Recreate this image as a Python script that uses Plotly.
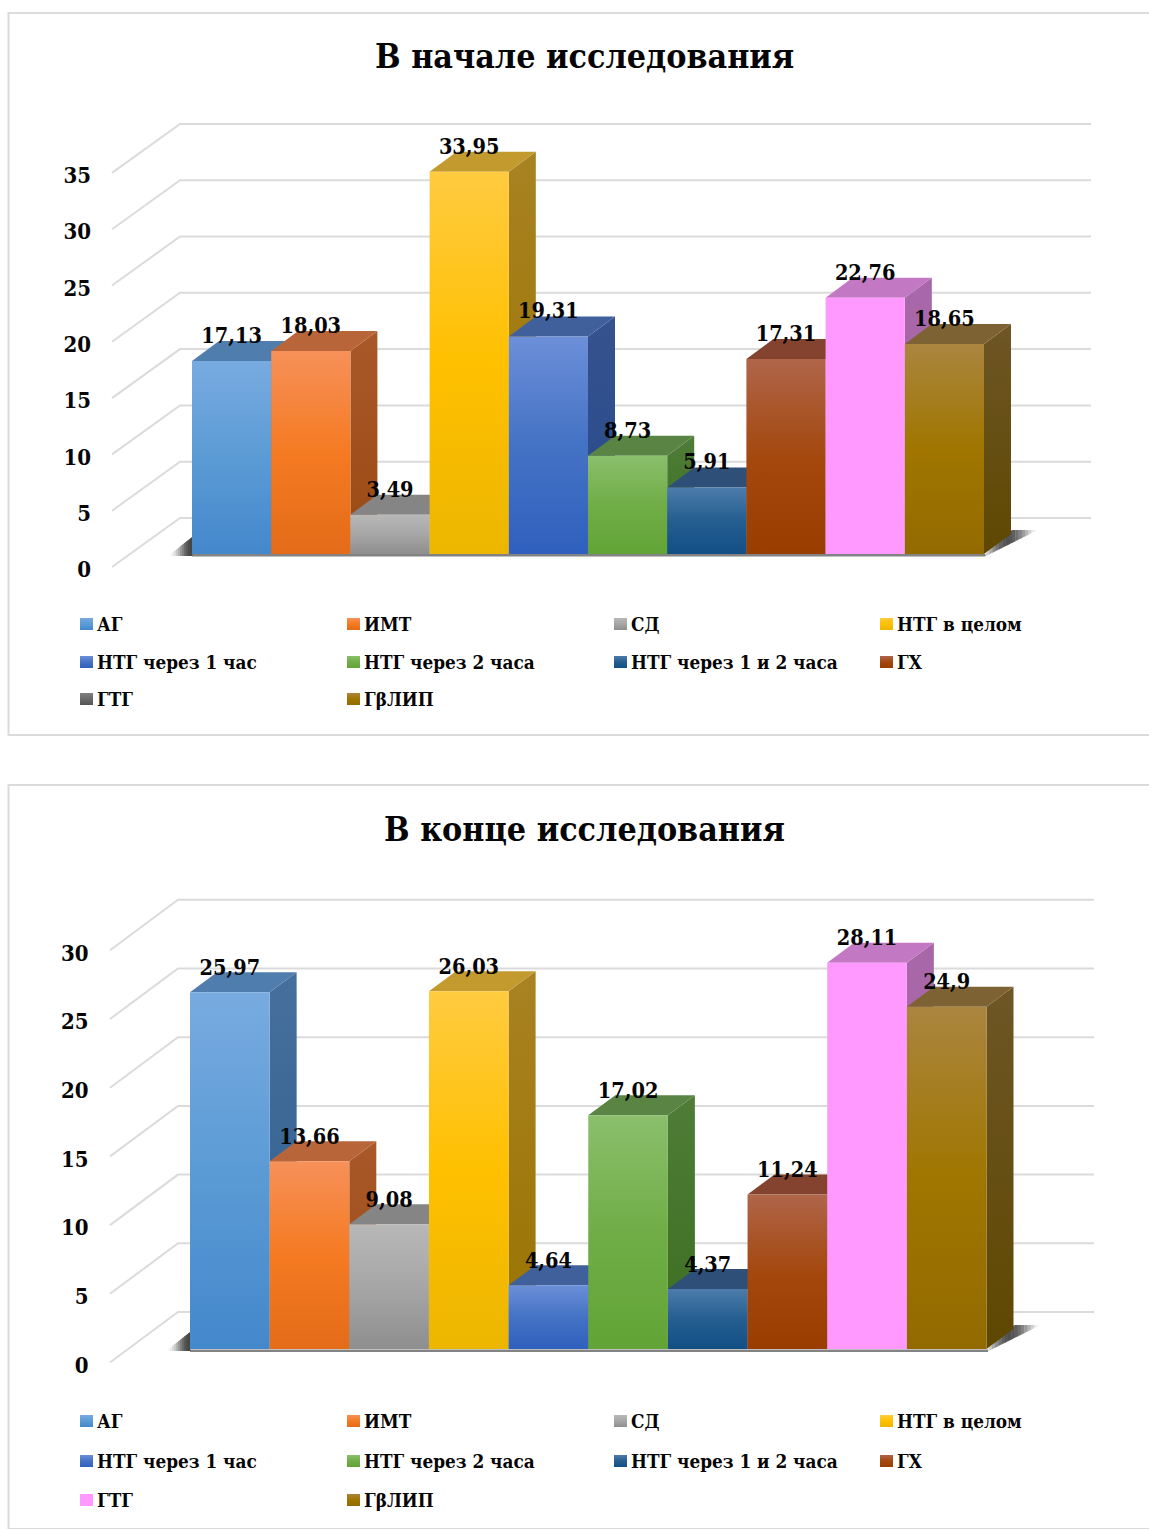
import plotly.graph_objects as go

FIG_W, FIG_H = 1149, 1529
SERIF = "DejaVu Serif Condensed"
INK = "#050505"

categories = ["АГ", "ИМТ", "СД", "НТГ в целом", "НТГ через 1 час", "НТГ через 2 часа",
              "НТГ через 1 и 2 часа", "ГХ", "ГТГ", "ГβЛИП"]
values_start = [17.13, 18.03, 3.49, 33.95, 19.31, 8.73, 5.91, 17.31, 22.76, 18.65]
values_end = [25.97, 13.66, 9.08, 26.03, 4.64, 17.02, 4.37, 11.24, 28.11, 24.9]
labels_start = ["17,13", "18,03", "3,49", "33,95", "19,31", "8,73", "5,91", "17,31", "22,76", "18,65"]
labels_end = ["25,97", "13,66", "9,08", "26,03", "4,64", "17,02", "4,37", "11,24", "28,11", "24,9"]

# Front face gradients, top to mid to bottom
front_colors = [
    ("#78ABE0", "#5B9BD5", "#4488CC"),
    ("#F69159", "#F57A22", "#E46B18"),
    ("#B8B8B8", "#A6A6A6", "#8E8E8E"),
    ("#FFCB40", "#FFC000", "#ECB600"),
    ("#6C8FD8", "#4472C4", "#2F60BE"),
    ("#8BBF6C", "#70AD47", "#62A436"),
    ("#4C7CAB", "#255E91", "#124F85"),
    ("#B0654A", "#A4480E", "#993D00"),
    ("#FF99FF", "#FF99FF", "#FF99FF"),
    ("#AA853F", "#A07600", "#936A00"),
]
top_colors = ["#4F7EAE", "#B8653A", "#858585", "#C29A2E", "#40609C",
              "#5A8444", "#2E5078", "#83432F", "#C278C2", "#7D6234"]
side_colors = [
    ("#466F9C", "#2F5F8F"), ("#A9582A", "#9A4A12"), ("#7C7C7C", "#666666"),
    ("#A98222", "#997300"), ("#36528E", "#264A8C"), ("#4F7D38", "#3B6E20"),
    ("#1E4670", "#123A60"), ("#7E3E22", "#6E2E08"), ("#A868A8", "#A060A8"),
    ("#6E5626", "#5E4800"),
]
legend_colors_start = [c for c in front_colors]
legend_colors_start[8] = ("#808080", "#6A6A6A", "#555555")
legend_colors_end = list(front_colors)

# Grey level of the floor shadow at evenly spaced steps across each wedge
shadow_left_greys = [252, 246, 235, 220, 200, 178, 152, 128, 105, 88, 76, 70]
shadow_right_greys = [205, 170, 140, 115, 98, 86, 80, 84, 95, 112, 132, 155, 182, 210, 235, 250]

GRID_COLOR = "#DBDBDB"

charts = [
    dict(title="В начале исследования", values=values_start, labels=labels_start,
         legend_colors=legend_colors_start, title_py=56, card=(13, 735),
         y_step=5, y_max=35, scale=11.26, zero_py=569.5, wall_front_py=567, base_py=554,
         bar_x0=192, bar_w=79.2, wall_x=112, back_x=180, right_x=1091, back_zero_py=518,
         tick_right=91, label_gap=23.5, legend_rows=(624, 662, 699)),
    dict(title="В конце исследования", values=values_end, labels=labels_end,
         legend_colors=legend_colors_end, title_py=829, card=(785, 1529),
         y_step=5, y_max=30, scale=13.74, zero_py=1365, wall_front_py=1362.5, base_py=1349,
         bar_x0=190, bar_w=79.65, wall_x=110, back_x=178, right_x=1094, back_zero_py=1312,
         tick_right=88.5, label_gap=22.8, legend_rows=(1421, 1461, 1500)),
]

BAR_DX, BAR_DY = 27, 20
LEGEND_X = (80, 347, 614, 880)
LEGEND_ORDER = [0, 1, 2, 3, 4, 5, 6, 7, 8, 9]

fig = go.Figure()
annotations, shapes = [], []


def polygon(xs, ys, ax, colors):
    """Filled polygon; colors run from the bottom of the polygon to its top."""
    n = len(colors)
    scale = [[i / (n - 1), c] for i, c in enumerate(colors)]
    fig.add_trace(go.Scatter(
        x=xs, y=ys, xaxis=f"x{ax}", yaxis=f"y{ax}", mode="none", fill="toself",
        fillgradient=dict(type="vertical", colorscale=scale),
        hoverinfo="skip", showlegend=False))


def shadow_wedge(ax, to_x, to_y, x0, x1, upper, lower, greys):
    """Soft shadow built from vertical strips; upper and lower give the edges in pixels."""
    n = len(greys)
    for k, g in enumerate(greys):
        a = x0 + (x1 - x0) * k / n
        b = x0 + (x1 - x0) * (k + 1) / n + 0.4
        fig.add_trace(go.Scatter(
            x=[to_x(a), to_x(b), to_x(b), to_x(a), to_x(a)],
            y=[to_y(upper(a)), to_y(upper(b)), to_y(lower(b)), to_y(lower(a)), to_y(upper(a))],
            xaxis=f"x{ax}", yaxis=f"y{ax}", mode="none", fill="toself",
            fillcolor=f"rgb({g},{g},{g})", hoverinfo="skip", showlegend=False))


for idx, ch in enumerate(charts):
    ax = idx + 1
    sy = ch["scale"]
    bw = ch["bar_w"]
    to_x = lambda px, c=ch: (px - c["bar_x0"]) / c["bar_w"]
    to_y = lambda py, c=ch: (c["zero_py"] - py) / c["scale"]
    base = to_y(ch["base_py"])
    dx, dy = BAR_DX / bw, BAR_DY / sy
    wall_front, wall_back = to_y(ch["wall_front_py"]), to_y(ch["back_zero_py"])
    wall_l, wall_b, wall_r = to_x(ch["wall_x"]), to_x(ch["back_x"]), to_x(ch["right_x"])

    # Axis frame of this panel: one unit on x is one bar, one unit on y is one percent
    top_py, bottom_py = ch["card"]
    fig.update_layout({
        f"xaxis{ax}": dict(domain=[0, 1], range=[to_x(0), to_x(FIG_W)], visible=False,
                           fixedrange=True),
        f"yaxis{ax}": dict(domain=[1 - bottom_py / FIG_H, 1 - top_py / FIG_H],
                           range=[to_y(bottom_py), to_y(top_py)],
                           anchor="free", position=ch["tick_right"] / FIG_W,
                           tickmode="array",
                           tickvals=list(range(0, ch["y_max"] + 1, ch["y_step"])),
                           showgrid=False, zeroline=False, showline=False, ticks="",
                           tickfont=dict(family=SERIF, size=22, color=INK, weight="bold"),
                           fixedrange=True),
    })

    # Walls: each gridline runs back along the side wall and then across the back wall
    for v in range(0, ch["y_max"] + 1, ch["y_step"]):
        fig.add_trace(go.Scatter(
            x=[wall_l, wall_b, wall_r], y=[v + wall_front, v + wall_back, v + wall_back],
            xaxis=f"x{ax}", yaxis=f"y{ax}", mode="lines",
            line=dict(color=GRID_COLOR, width=2), hoverinfo="skip", showlegend=False))

    # Floor shadow on both ends of the bar row and along its front
    bx0, bpy = ch["bar_x0"], ch["base_py"]
    bx1 = bx0 + 10 * bw
    shadow_wedge(ax, to_x, to_y, bx0 - 24, bx0,
                 lambda x, b=bx0, p=bpy: p + 2 - (x - (b - 24)) * 19 / 24,
                 lambda x, p=bpy: p + 2, shadow_left_greys)
    shadow_wedge(ax, to_x, to_y, bx1 + 2, bx1 + 54,
                 lambda x, b=bx1, p=bpy: max(p - 24, p + 1 - (x - b) * 25 / 27),
                 lambda x, b=bx1, p=bpy: p + 2 - (x - b - 2) * 26 / 52, shadow_right_greys)
    fig.add_trace(go.Scatter(
        x=[0, 10.02], y=[base - 0.12, base - 0.12], xaxis=f"x{ax}", yaxis=f"y{ax}",
        mode="lines", line=dict(color="rgba(90,90,90,0.75)", width=2.5),
        hoverinfo="skip", showlegend=False))

    # Bars, left to right so that each one hides the side of its left neighbour
    for i, val in enumerate(ch["values"]):
        top = base + val
        polygon([i + 1, i + 1 + dx, i + 1 + dx, i + 1, i + 1],
                [base, base + dy, top + dy, top, base], ax, side_colors[i][::-1])
        polygon([i, i + dx, i + 1 + dx, i + 1, i],
                [top, top + dy, top + dy, top, top], ax, [top_colors[i], top_colors[i]])
        polygon([i, i + 1, i + 1, i, i], [base, base, top, top, base], ax,
                list(front_colors[i][::-1]))

    # Value labels sit a fixed height above each front face
    fig.add_trace(go.Scatter(
        x=[i + 0.5 for i in range(len(categories))],
        y=[base + v + ch["label_gap"] / sy for v in ch["values"]],
        text=ch["labels"], mode="text", textposition="middle center",
        textfont=dict(family=SERIF, size=21.5, color=INK, weight="bold"),
        xaxis=f"x{ax}", yaxis=f"y{ax}", hoverinfo="skip", showlegend=False))

    # Legend swatches and their labels in a four-column grid
    for k, i in enumerate(LEGEND_ORDER):
        row, col = k // 4, k % 4
        px = LEGEND_X[col]
        py = ch["legend_rows"][row]
        polygon([to_x(px), to_x(px + 13), to_x(px + 13), to_x(px), to_x(px)],
                [to_y(py + 6), to_y(py + 6), to_y(py - 6), to_y(py - 6), to_y(py + 6)],
                ax, list(ch["legend_colors"][i][::-1]))
        annotations.append(dict(
            text=categories[i], x=(px + 15) / FIG_W, y=1 - py / FIG_H, xref="paper", yref="paper",
            xanchor="left", yanchor="middle", showarrow=False,
            font=dict(family=SERIF, size=18.8, color=INK, weight="bold")))

    annotations.append(dict(
        text=ch["title"], x=584.8 / FIG_W, y=1 - ch["title_py"] / FIG_H, xref="paper", yref="paper",
        xanchor="center", yanchor="middle", showarrow=False,
        font=dict(family=SERIF, size=33.7, color=INK, weight="bold")))

    # Card outline; it runs off the right edge of the page
    shapes.append(dict(type="rect", xref="paper", yref="paper",
                       x0=8.5 / FIG_W, x1=1.02, y0=1 - bottom_py / FIG_H, y1=1 - top_py / FIG_H,
                       line=dict(color="#DADADA", width=2), layer="below"))

fig.update_layout(width=FIG_W, height=FIG_H, margin=dict(l=0, r=0, t=0, b=0, pad=0),
                  paper_bgcolor="white", plot_bgcolor="rgba(0,0,0,0)", showlegend=False,
                  annotations=annotations, shapes=shapes)
fig.write_html("out.html")
